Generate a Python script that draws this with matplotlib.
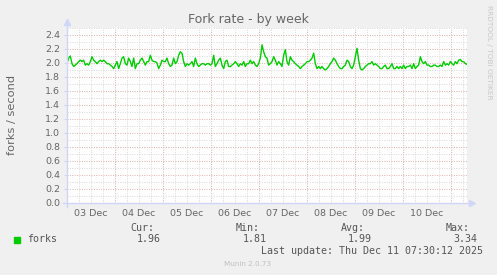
import numpy as np
import matplotlib
matplotlib.use("Agg")
import matplotlib.pyplot as plt

# fork rate samples, one every 50 minutes starting 03 Dec 00:00 (forks / second)
forks = [
    2.00, 2.07, 2.10, 1.99, 1.95, 1.97, 1.99, 2.02, 2.04, 2.02, 2.04, 1.97, 1.99, 1.97, 2.02, 2.09,
    2.04, 2.02, 1.99, 2.02, 2.04, 2.02, 2.04, 2.02, 1.99, 1.99, 1.97, 1.95, 1.92, 1.97, 2.02, 1.92,
    1.99, 2.07, 2.09, 1.99, 1.97, 2.07, 2.02, 1.95, 2.07, 1.92, 1.99, 1.99, 2.04, 2.07, 2.02, 1.97,
    2.02, 2.02, 2.11, 2.04, 2.02, 2.02, 2.00, 1.92, 1.97, 2.04, 2.02, 2.02, 2.07, 1.99, 1.95, 1.97,
    2.07, 1.99, 2.02, 2.11, 2.16, 2.14, 2.02, 1.95, 1.99, 1.97, 1.99, 2.02, 1.95, 2.07, 1.99, 1.95,
    1.97, 1.99, 1.99, 1.97, 1.99, 1.99, 1.97, 1.99, 2.11, 1.95, 1.99, 2.04, 2.07, 1.97, 1.92, 2.02,
    2.04, 1.95, 1.95, 1.97, 1.99, 2.02, 1.99, 1.95, 1.99, 1.97, 2.02, 1.95, 1.99, 1.99,
    2.04, 1.99, 2.02, 1.97, 1.95, 1.99, 2.07, 2.26, 2.16, 2.09, 2.07, 1.97, 1.99, 2.02, 2.09, 2.04,
    1.97, 2.02, 1.99, 1.95, 2.11, 2.19, 2.02, 1.97, 2.09, 2.04, 2.02, 1.99, 1.97, 1.95, 1.92, 1.95,
    1.97, 1.99, 2.02, 2.02, 2.04, 2.07, 2.14, 1.99, 1.92, 1.95, 1.92, 1.95, 1.92, 1.90, 1.92, 1.95,
    1.99, 2.02, 2.07, 2.04, 1.99, 1.95, 1.92, 1.92, 1.95, 1.97, 2.04, 2.02, 1.95, 1.92, 1.97, 2.09,
    2.21, 2.04, 1.92, 1.90, 1.92, 1.95, 1.97, 1.99, 1.99, 2.02, 1.97, 1.99, 1.97, 1.95, 1.92, 1.92,
    1.95, 1.97, 1.92, 1.92, 1.95, 1.99, 1.92, 1.92, 1.95, 1.92, 1.95, 1.92, 1.97, 1.92, 1.95, 1.95,
    1.97, 1.92, 1.99, 1.92, 1.95, 1.97, 2.09, 2.02, 1.99, 2.02, 1.97, 1.97, 1.95, 1.95, 1.97, 1.97,
    1.95, 1.95, 1.97, 1.95, 2.02, 1.97, 1.99, 1.97, 2.02, 1.99, 1.97, 2.02, 1.99, 2.04, 2.05, 2.02,
    2.02, 1.99, 1.98,
]
step_days = 50 / 1440.0
day_labels = ["03 Dec", "04 Dec", "05 Dec", "06 Dec", "07 Dec", "08 Dec", "09 Dec", "10 Dec"]
stats_head = ["Cur:", "Min:", "Avg:", "Max:"]
stats_vals = ["1.96", "1.81", "1.99", "3.34"]
last_update = "Last update: Thu Dec 11 07:30:12 2025"

W, H = 497, 275
BG = "#F0F0F0"
FONT = "#666666"
AXIS = "#CFD6F8"
x_end = 8 + 8 / 24.0  # plot runs to 11 Dec 08:00

fig = plt.figure(figsize=(W / 100, H / 100), dpi=100, facecolor=BG)
# plot area in pixels: x 67..467, y 28..203
ax = fig.add_axes([67 / W, (H - 203) / H, 400 / W, 175 / H], facecolor="white")

t = np.arange(len(forks)) * step_days

# grid: minor every 6h / 0.1, major every day / 0.2
dots = (0, (1, 1.4))
for h in np.arange(0.25, x_end, 0.25):
    major = abs(h - round(h)) < 1e-6
    ax.axvline(h, color="#E3B3B3" if major else "#DADADA", lw=0.72,
               ls=dots, zorder=1)
for v in np.arange(0.1, 2.55, 0.1):
    major = abs(v / 0.2 - round(v / 0.2)) < 1e-6
    ax.axhline(v, color="#E3B3B3" if major else "#DADADA", lw=0.72,
               ls=dots, zorder=1)

ax.plot(t, forks, color="#00CC00", lw=1.0, zorder=3)

ax.set_xlim(0, x_end)
ax.set_ylim(0, 2.5)
for s in ax.spines.values():
    s.set_visible(False)

# axis lines with arrows
ax.plot([0, 0], [-0.02, 1.035], transform=ax.transAxes, color=AXIS, lw=1,
        clip_on=False, zorder=4)
ax.plot([-0.01, 1.012], [0, 0], transform=ax.transAxes, color=AXIS, lw=1,
        clip_on=False, zorder=4)
ax.plot([0], [1.035], marker="^", ms=4, color=AXIS, transform=ax.transAxes,
        clip_on=False, zorder=4)
ax.plot([1.012], [0], marker=">", ms=4, color=AXIS, transform=ax.transAxes,
        clip_on=False, zorder=4)

ax.set_yticks(np.arange(0, 2.41, 0.2))
ax.set_yticklabels([f"{v:.1f}" for v in np.arange(0, 2.41, 0.2)])
ax.set_xticks(np.arange(len(day_labels)) + 0.5)
ax.set_xticklabels(day_labels)
ax.tick_params(axis="y", length=2, width=0.8, color=AXIS, labelsize=6.8,
               labelcolor=FONT, pad=3)
ax.tick_params(axis="x", length=0, labelsize=6.8, labelcolor=FONT, pad=4)

fig.text(248 / W, 1 - 19 / H, "Fork rate - by week", ha="center", va="center",
         fontsize=9, color=FONT)
fig.text(12 / W, 1 - 115 / H, "forks / second", ha="center", va="center",
         rotation=90, fontsize=8.2, color=FONT)
fig.text(489 / W, 1 - 5 / H, "RRDTOOL / TOBI OETIKER", ha="center", va="top",
         rotation=270, fontsize=5.3, color="#C8C8C8")

# legend
mono = "DejaVu Sans Mono"
fig.patches.append(plt.Rectangle((14 / W, 1 - 242.5 / H), 6 / W, 6 / H,
                                 transform=fig.transFigure, color="#00CC00"))
fig.text(27 / W, 1 - 239.5 / H, "forks", ha="left", va="center",
         family=mono, fontsize=7.2, color="#555555")
head_right = [154, 260, 365, 470]
val_right = [161, 267, 372, 477]
for hd, val, hx, vx in zip(stats_head, stats_vals, head_right, val_right):
    fig.text(hx / W, 1 - 228 / H, hd, ha="right", va="center",
             family=mono, fontsize=7.2, color="#555555")
    fig.text(vx / W, 1 - 239.5 / H, val, ha="right", va="center",
             family=mono, fontsize=7.2, color="#555555")
fig.text(483 / W, 1 - 251 / H, last_update, ha="right", va="center",
         family=mono, fontsize=7.2, color="#555555")
fig.text(248 / W, 1 - 264 / H, "Munin 2.0.73", ha="center", va="center",
         fontsize=5.2, color="#C0C0C0")

fig.savefig("out.png", dpi=100, facecolor=BG)
